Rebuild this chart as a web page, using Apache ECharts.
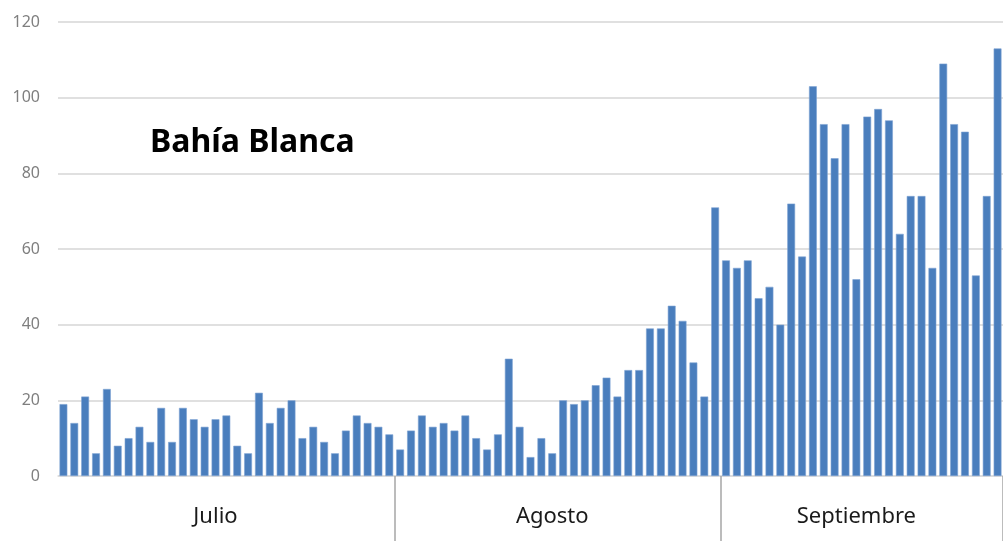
<!DOCTYPE html>
<html>
<head>
<meta charset="utf-8">
<script src="https://cdn.jsdelivr.net/npm/echarts@6/dist/echarts.min.js"></script>
<style>
html,body{margin:0;padding:0;background:#fff;}
#chart{width:1003px;height:541px;}
</style>
</head>
<body>
<div id="chart"></div>
<script>
// Daily cases, Bahía Blanca
const monthNames = ["Julio", "Agosto", "Septiembre"];
const julioValues = [19,14,21,6,23,8,10,13,9,18,9,18,15,13,15,16,8,6,22,14,18,20,10,13,9,6,12,16,14,13,11];
const agostoValues = [7,12,16,13,14,12,16,10,7,11,31,13,5,10,6,20,19,20,24,26,21,28,28,39,39,45,41,30,21,71];
const septiembreValues = [57,55,57,47,50,40,72,58,103,93,84,93,52,95,97,94,64,74,74,55,109,93,91,53,74,113];
const yTicks = [0,20,40,60,80,100,120];

const monthValues = [julioValues, agostoValues, septiembreValues];
const categories = [];
const values = [];
const monthOf = [];
const monthStart = new Set();
const monthLabelIdx = new Set();
monthValues.forEach((arr, m) => {
  const start = categories.length;
  if (m > 0) monthStart.add(start);
  monthLabelIdx.add(start + Math.floor(arr.length / 2) - 1);
  arr.forEach((v, d) => {
    categories.push((d + 1) + " " + monthNames[m]);
    values.push(v);
    monthOf.push(m);
  });
});

const chart = echarts.init(document.getElementById('chart'));
chart.setOption({
  animation: false,
  title: {
    text: 'Bahía Blanca',
    left: 145,
    top: 122,
    textStyle: { fontFamily: 'Noto Sans', fontWeight: 'bold', fontSize: 32, color: '#000' }
  },
  grid: { left: 58, right: -3, top: 22, bottom: 65 },
  xAxis: {
    type: 'category',
    data: categories,
    boundaryGap: true,
    axisLine: { show: true, lineStyle: { color: '#dcdcdc', width: 1.5 } },
    axisTick: {
      show: true,
      length: 66,
      interval: (i) => monthStart.has(i),
      lineStyle: { color: '#a6a6a6', width: 1.5 }
    },
    axisLabel: {
      interval: (i) => monthLabelIdx.has(i),
      formatter: (val, i) => monthNames[monthOf[i]],
      fontFamily: 'Noto Sans',
      fontSize: 22,
      color: '#1a1a1a',
      margin: 30
    },
    splitLine: { show: false }
  },
  yAxis: {
    type: 'value',
    min: yTicks[0],
    max: yTicks[yTicks.length - 1],
    interval: 20,
    axisLine: { show: false },
    axisTick: { show: false },
    axisLabel: { fontFamily: 'Noto Sans', fontSize: 16, color: '#7f7f7f', margin: 18 },
    splitLine: { lineStyle: { color: '#e0e0e0', width: 2 } }
  },
  series: [{
    type: 'bar',
    data: values,
    barCategoryGap: '28%',
    itemStyle: { color: '#4a7ebd', borderColor: '#7ea3d4', borderWidth: 0.6 }
  }]
});
</script>
</body>
</html>
